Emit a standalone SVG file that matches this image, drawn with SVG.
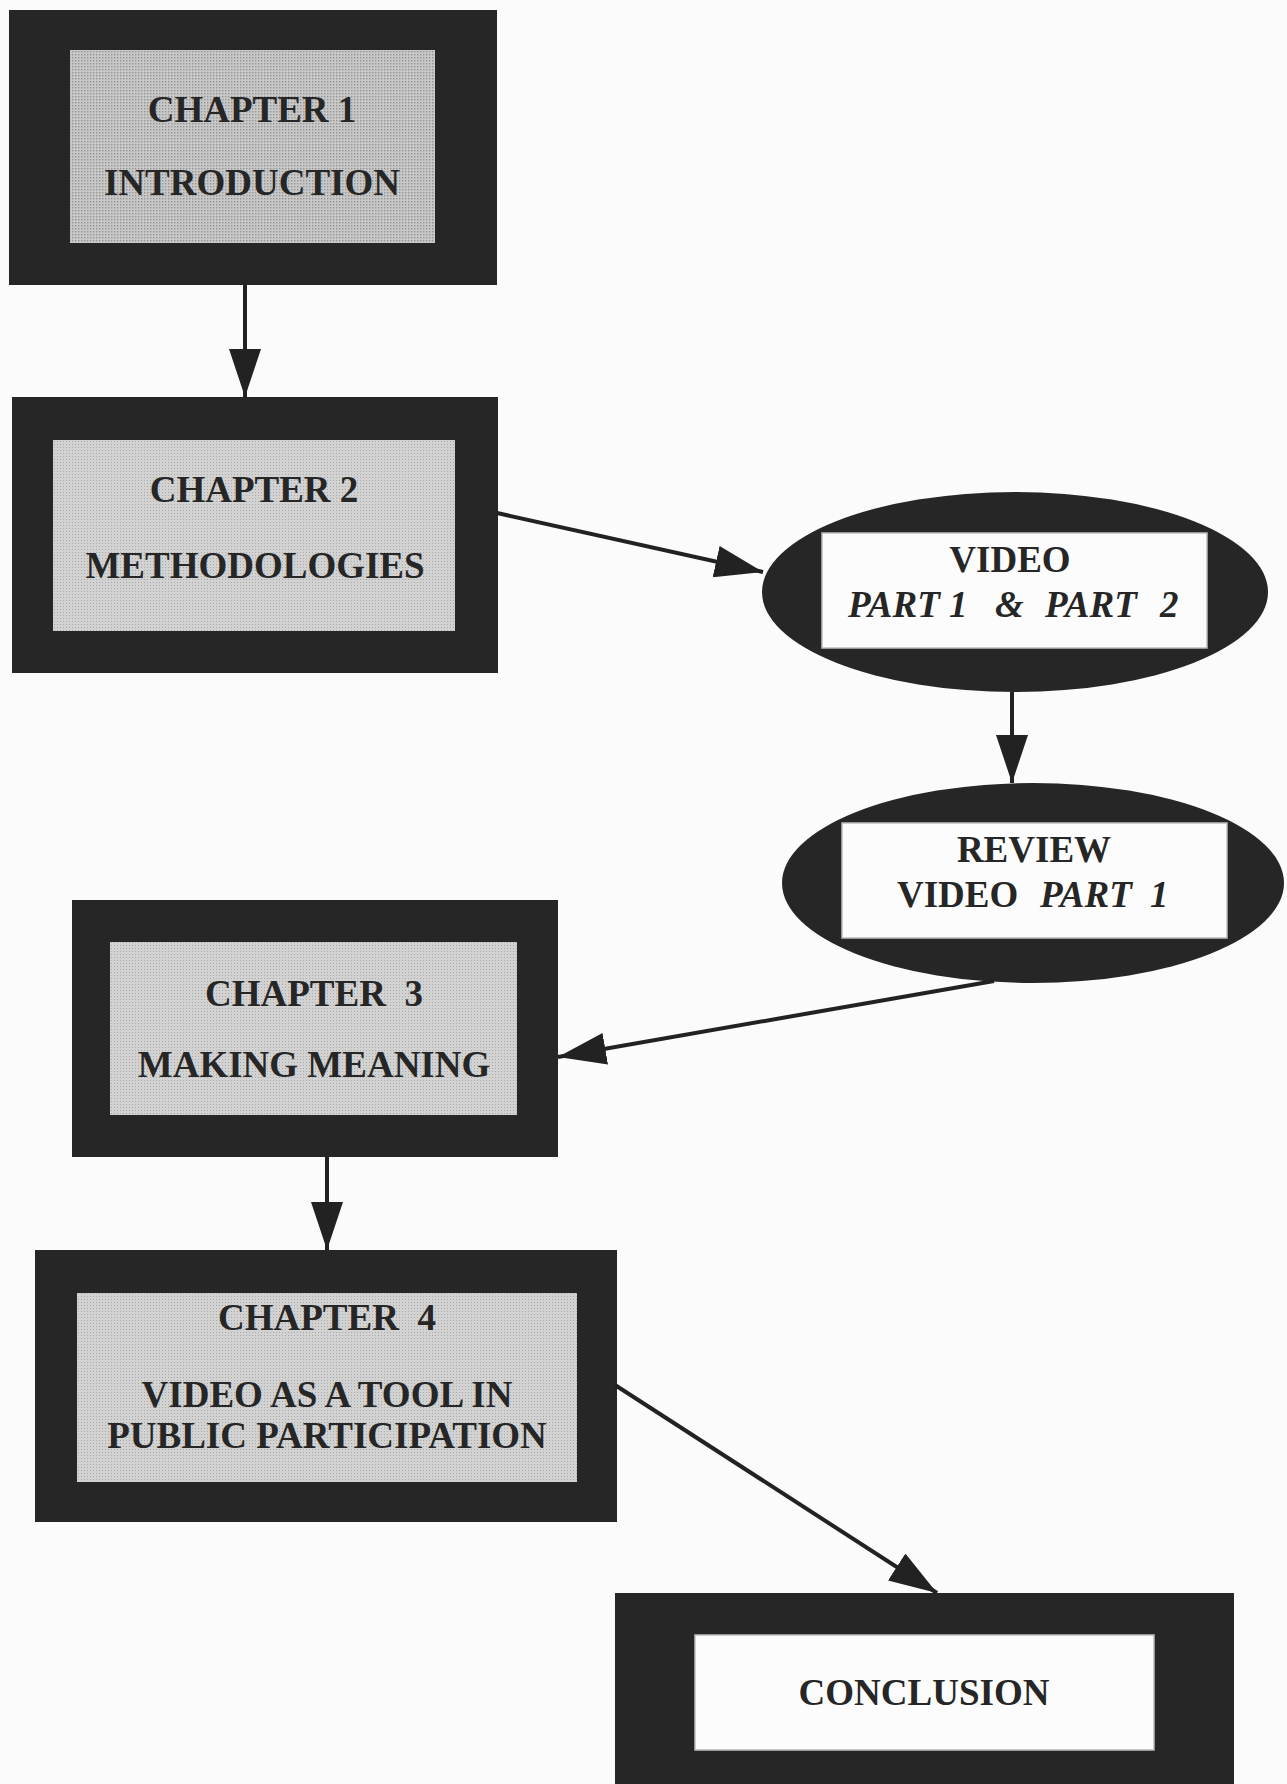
<svg xmlns="http://www.w3.org/2000/svg" width="1287" height="1784" viewBox="0 0 1287 1784">
<defs>
<style>
.outer{fill:#262626}
.inner{fill:url(#stip)}
.inner1{fill:url(#stip1)}
.white{fill:#fcfcfc;stroke:#bdbdbd;stroke-width:1.5}
.t{font-family:"Liberation Serif","Times New Roman",serif;font-weight:bold;font-size:37px;fill:#262626;text-anchor:middle}
.i{font-style:italic}
.s{text-anchor:start}
.conn{stroke:#222;stroke-width:4;fill:none;marker-end:url(#ah)}
</style>
<pattern id="stip" width="3" height="3" patternUnits="userSpaceOnUse">
<rect width="3" height="3" fill="#d2d2d2"/>
<rect width="1" height="1" fill="#a9a9a9"/>
</pattern>
<pattern id="stip1" width="3" height="3" patternUnits="userSpaceOnUse">
<rect width="3" height="3" fill="#c8c8c8"/>
<rect width="1.4" height="1.4" fill="#959595"/>
</pattern>
<marker id="ah" viewBox="0 0 48 32" refX="48" refY="16" markerWidth="48" markerHeight="32" markerUnits="userSpaceOnUse" orient="auto">
<path d="M0,0 L48,16 L0,32 z" fill="#222"/>
</marker>
</defs>
<rect width="1287" height="1784" fill="#fbfbfb"/>

<g id="ch1">
<rect class="outer" x="9" y="10" width="488" height="275"/>
<rect class="inner1" x="70" y="50" width="365" height="193"/>
<text class="t" x="252" y="122">CHAPTER 1</text>
<text class="t" x="252" y="195">INTRODUCTION</text>
</g>

<g id="ch2">
<rect class="outer" x="12" y="397" width="486" height="276"/>
<rect class="inner" x="53" y="440" width="402" height="191"/>
<text class="t" x="254" y="502">CHAPTER 2</text>
<text class="t" x="255" y="578">METHODOLOGIES</text>
</g>

<g id="video">
<ellipse class="outer" cx="1015" cy="592" rx="253" ry="100"/>
<rect class="white" x="822" y="533" width="385" height="115"/>
<text class="t" x="1010" y="572">VIDEO</text>
<text class="t i s" y="617"><tspan x="848">PART 1</tspan><tspan x="995">&amp;</tspan><tspan x="1045">PART</tspan><tspan x="1160">2</tspan></text>
</g>

<g id="review">
<ellipse class="outer" cx="1033" cy="883" rx="251" ry="100"/>
<rect class="white" x="842" y="823" width="385" height="115"/>
<text class="t" x="1034" y="862">REVIEW</text>
<text class="t s" y="907"><tspan x="897">VIDEO</tspan><tspan class="i" x="1040">PART</tspan><tspan class="i" x="1150">1</tspan></text>
</g>

<g id="ch3">
<rect class="outer" x="72" y="900" width="486" height="257"/>
<rect class="inner" x="110" y="942" width="407" height="173"/>
<text class="t" x="314" y="1006">CHAPTER&#160; 3</text>
<text class="t" x="314" y="1077">MAKING MEANING</text>
</g>

<g id="ch4">
<rect class="outer" x="35" y="1250" width="582" height="272"/>
<rect class="inner" x="77" y="1293" width="500" height="189"/>
<text class="t" x="327" y="1330">CHAPTER&#160; 4</text>
<text class="t" x="327" y="1407">VIDEO AS A TOOL IN</text>
<text class="t" x="327" y="1448">PUBLIC PARTICIPATION</text>
</g>

<g id="conclusion">
<rect class="outer" x="615" y="1593" width="619" height="200"/>
<rect class="white" x="695" y="1635" width="459" height="115"/>
<text class="t" x="924" y="1705">CONCLUSION</text>
</g>

<g id="connectors">
<line class="conn" x1="245" y1="285" x2="245" y2="397"/>
<line class="conn" x1="497" y1="513" x2="763" y2="572"/>
<line class="conn" x1="1012" y1="692" x2="1012" y2="783"/>
<line class="conn" x1="994" y1="981" x2="558" y2="1057"/>
<line class="conn" x1="327" y1="1157" x2="327" y2="1250"/>
<line class="conn" x1="615" y1="1385" x2="937" y2="1593"/>
</g>
</svg>
